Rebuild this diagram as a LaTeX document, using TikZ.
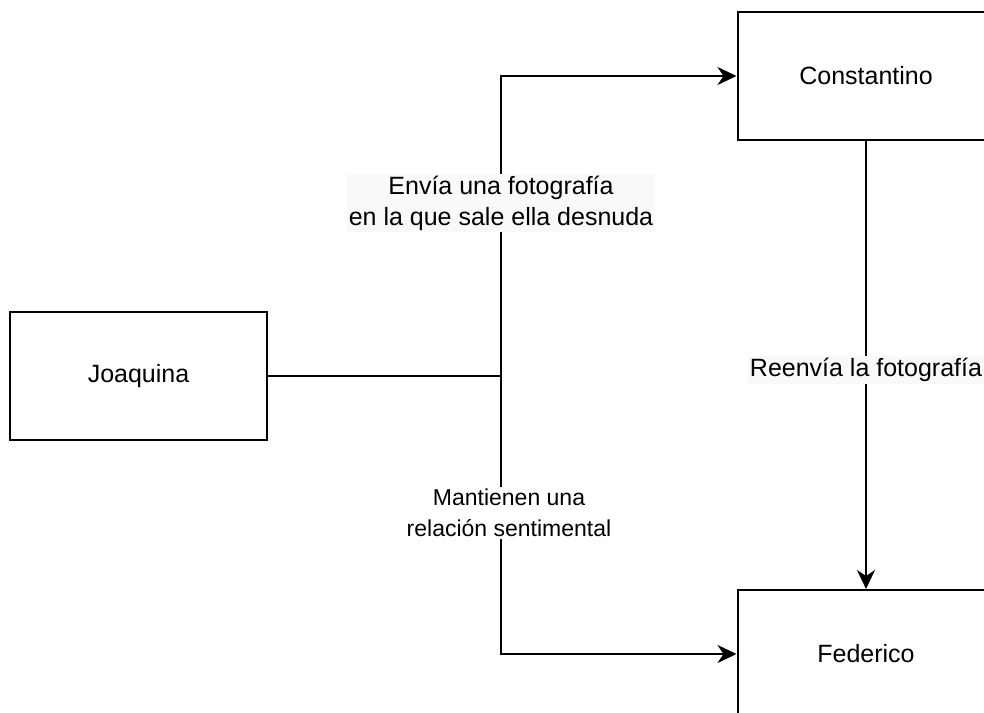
\documentclass[tikz,border=0pt]{standalone}
\usepackage{fontspec}
\setmainfont{Liberation Sans}
\usetikzlibrary{arrows.meta}
\definecolor{labelgray}{RGB}{248, 249, 250}
\tikzset{
    person/.style   ={draw, line width=2pt, minimum width=257pt, minimum height=128pt, font=\fontsize{25}{30}\selectfont},
    link/.style     ={line width=2pt},
    linkarrow/.style={line width=2pt, -{Stealth[length=19pt, width=18pt, inset=6pt]}},
    note/.style     ={fill=labelgray, align=center, inner sep=2pt, font=\fontsize{25}{31}\selectfont},
    smallnote/.style={fill=white, align=center, inner sep=2pt, font=\fontsize{23}{31}\selectfont}
}

\begin{document}
\begin{tikzpicture}[x=1pt, y=-1pt]
            \useasboundingbox                                 (  0.0,  0.0) rectangle (984.0, 712.0);
            \node[person] (joaquina)    at                    (138.5,376.0) {Joaquina};
            \node[person] (constantino) at                    (866.0, 76.0) {Constantino};
            \node[person] (federico)    at                    (866.0,654.0) {Federico};
            \coordinate   (junction)    at                    (501.0,376.0);
            \draw[link]      (joaquina.east) -- (junction);
            \draw[linkarrow] (junction) |- (constantino.west);
            \draw[linkarrow] (junction) |- (federico.west);
            \draw[linkarrow] (constantino.south) -- (federico.north);
            \node[note]      (sends)    at                    (501.0,203.0) {Envía una fotografía\\en la que sale ella desnuda};
            \node[smallnote] (relation) at                    (509.0,513.0) {Mantienen una\\relación sentimental};
            \node[note]      (forwards) at                    (866.0,370.0) {Reenvía la fotografía};
        \end{tikzpicture}
\end{document}
